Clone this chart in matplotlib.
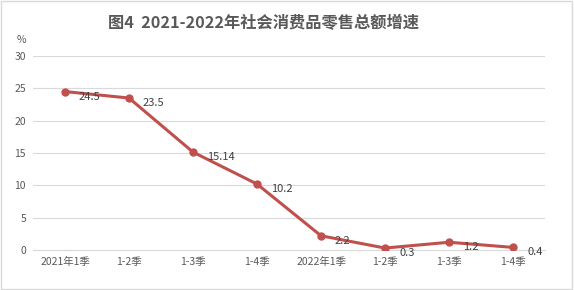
import numpy as np
import matplotlib.pyplot as plt
from matplotlib.patches import Rectangle

plt.rcParams['font.family'] = ['Noto Sans CJK SC', 'DejaVu Sans']

# donnees
categories = ['2021年1季', '1-2季', '1-3季', '1-4季', '2022年1季', '1-2季', '1-3季', '1-4季']
values = [24.5, 23.5, 15.14, 10.2, 2.2, 0.3, 1.2, 0.4]
labels = ['24.5', '23.5', '15.14', '10.2', '2.2', '0.3', '1.2', '0.4']

fig = plt.figure(figsize=(5.74, 2.90), dpi=100)
ax = fig.add_axes([33/574, 1-250/290, 512/574, 194/290])

x = np.arange(len(values))
ax.plot(x, values, color='#C0504D', linewidth=2.2, marker='o', markersize=5, zorder=3)
for xi, v, lab in zip(x, values, labels):
    ax.annotate(lab, (xi, v), xytext=(14, -5), textcoords='offset pixels',
                ha='left', va='center', fontsize=8, color='#404040')

ax.set_xlim(-0.5, len(values)-0.5)
ax.set_ylim(0, 30)
ax.set_yticks(np.arange(0, 31, 5))
ax.set_xticks(x)
ax.set_xticklabels(categories)
ax.tick_params(axis='both', length=0, labelsize=7.5, colors='#595959')
ax.tick_params(axis='y', pad=5)
ax.tick_params(axis='x', pad=5)
ax.grid(axis='y', color='#D9D9D9', linewidth=0.8)
for s in ['top', 'right', 'left']:
    ax.spines[s].set_visible(False)
ax.spines['bottom'].set_color('#D9D9D9')
ax.set_axisbelow(True)

fig.text(21/574, 1-40/290, '%', fontsize=7.5, color='#595959', ha='center', va='center')

fig.text(263/574, 1-23/290, '图4  2021-2022年社会消费品零售总额增速', ha='center', va='center',
         fontsize=11.7, fontweight='bold', color='#595959')

fig.patches.append(Rectangle((0.002, 0.004), 0.995, 0.992, transform=fig.transFigure,
                             fill=False, edgecolor='#D9D9D9', linewidth=1))

plt.savefig('out.png', dpi=100)
